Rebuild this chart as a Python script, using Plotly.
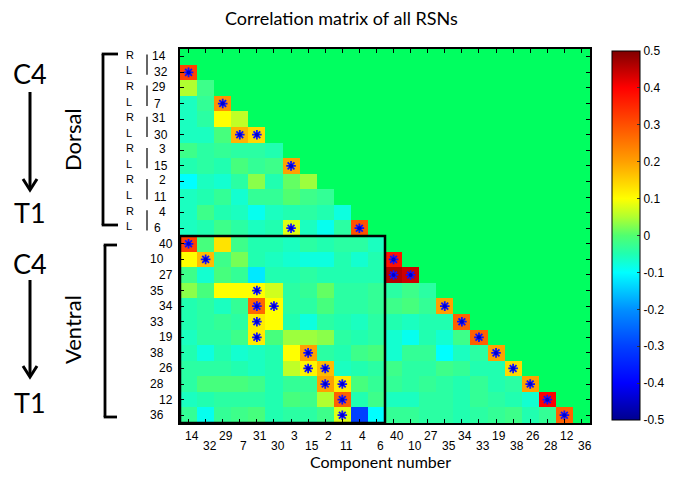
import plotly.graph_objects as go

# ---------------- data ----------------
dorsal_labels = ["14", "32", "29", "7", "31", "30", "3", "15", "2", "11", "4", "6"]
ventral_labels = ["40", "10", "27", "35", "34", "33", "19", "38", "26", "28", "12", "36"]
side_labels = ["R", "L"] * 6

# lower-triangle correlation values, row i holds columns 0..i-1
lower_rows = [
    [],
    [0.32],
    [0.05, -0.02],
    [-0.06, -0.03, 0.22],
    [-0.06, -0.04, 0.10, 0.06],
    [-0.06, -0.06, -0.01, 0.18, 0.14],
    [-0.02, -0.04, -0.03, -0.04, -0.04, -0.05],
    [-0.05, -0.04, -0.05, -0.01, -0.03, -0.02, 0.20],
    [-0.10, -0.06, -0.07, -0.04, 0.03, -0.05, 0.01, 0.04],
    [-0.06, -0.05, -0.03, -0.07, -0.03, -0.03, 0.00, -0.02, -0.03],
    [-0.06, -0.02, -0.05, -0.06, -0.09, -0.06, -0.05, -0.04, -0.05, -0.08],
    [-0.06, -0.05, -0.02, -0.04, -0.06, -0.05, 0.08, -0.06, -0.09, -0.04, 0.30],
    [0.32, -0.01, 0.13, -0.02, -0.05, -0.05, -0.06, -0.04, -0.05, -0.04, -0.04, -0.06],
    [0.10, 0.17, -0.02, 0.02, -0.05, -0.06, -0.07, -0.08, -0.08, -0.05, -0.07, -0.05, 0.38],
    [-0.02, -0.07, -0.01, -0.03, -0.12, -0.05, -0.05, -0.04, -0.05, -0.05, -0.05, -0.05, 0.46, 0.44],
    [0.03, -0.01, 0.10, 0.10, 0.10, 0.07, -0.04, -0.03, 0.01, -0.04, -0.04, -0.03, -0.04, -0.02, -0.04],
    [-0.05, -0.04, -0.06, -0.03, 0.27, 0.10, -0.04, -0.04, -0.01, -0.04, -0.04, -0.03, -0.02, -0.01, -0.03, 0.20],
    [-0.05, -0.04, -0.03, -0.04, 0.12, 0.10, -0.05, -0.08, -0.04, -0.05, -0.06, -0.04, -0.05, -0.06, -0.05, -0.05, 0.28],
    [-0.06, -0.04, -0.04, -0.02, 0.12, -0.01, 0.04, 0.04, 0.03, -0.04, -0.05, -0.04, -0.07, -0.09, -0.05, -0.07, -0.02, 0.28],
    [-0.05, -0.08, -0.05, -0.07, -0.06, -0.05, 0.10, 0.20, -0.04, -0.05, -0.02, -0.01, -0.07, -0.03, -0.03, -0.10, -0.06, -0.04, 0.20],
    [-0.04, -0.04, -0.04, -0.05, -0.06, -0.05, 0.06, 0.11, 0.17, -0.06, -0.05, -0.04, -0.02, -0.04, -0.04, -0.02, -0.03, -0.05, -0.05, 0.14],
    [-0.04, -0.01, -0.01, -0.01, -0.02, -0.05, -0.03, -0.03, 0.20, 0.12, -0.01, -0.03, -0.03, -0.04, -0.03, -0.04, -0.05, -0.03, -0.05, -0.04, 0.20],
    [-0.06, -0.05, -0.04, -0.04, -0.04, -0.05, -0.01, -0.02, 0.05, 0.28, -0.05, -0.02, -0.06, -0.06, -0.04, -0.04, -0.05, -0.03, -0.04, -0.05, -0.07, 0.40],
    [-0.03, -0.09, -0.03, -0.02, -0.01, -0.05, -0.04, -0.04, -0.02, 0.08, -0.30, -0.10, -0.03, -0.03, -0.04, -0.04, -0.05, -0.04, -0.03, -0.02, -0.05, -0.03, 0.28],
]

# significant cells (row, column)
sig_cells = [
    (1, 0), (3, 2), (5, 3), (5, 4), (7, 6), (11, 6), (11, 10),
    (12, 0), (13, 1), (13, 12), (14, 12), (14, 13),
    (15, 4), (16, 4), (16, 5), (17, 4), (18, 4), (19, 7), (20, 7), (20, 8),
    (21, 8), (21, 9), (22, 9), (23, 9),
    (16, 15), (17, 16), (18, 17), (19, 18), (20, 19), (21, 20), (22, 21), (23, 22),
]

cbar_vals = [0.5, 0.4, 0.3, 0.2, 0.1, 0, -0.1, -0.2, -0.3, -0.4, -0.5]

# ---------------- build ----------------
all_labels = dorsal_labels + ventral_labels
n = len(all_labels)
z = [[(lower_rows[i][j] if j < i else None) for j in range(n)] for i in range(n)]
idx = list(range(n))

colorscale = [
    [0.00, "#00008f"], [0.10, "#0000ff"], [0.20, "#0040ff"], [0.30, "#0090ff"],
    [0.40, "#00ffff"], [0.45, "#20ffb0"], [0.50, "#50ff70"], [0.55, "#b0ff30"],
    [0.60, "#ffff00"], [0.70, "#ffa000"], [0.80, "#ff5000"], [0.90, "#ff0000"],
    [1.00, "#800000"],
]

BG = "#00ff60"

# page offset (browser body margin) and geometry in screen pixels
OFF = 8
SL, ST = 180, 49          # plot-area left/top on screen
PW, PH = 410, 374         # plot-area size
W, H = 674 - OFF, 477 - OFF
ml, mt = SL - OFF, ST - OFF
mr, mb = W - ml - PW, H - mt - PH
rowpx = PH / n


def px2paper(px):
    return (px - SL) / PW


def py2row(py):
    return (py - ST) / rowpx - 0.5


fig = go.Figure()
fig.add_trace(go.Heatmap(
    x=idx, y=idx, z=z, zmin=-0.5, zmax=0.5, colorscale=colorscale,
    showscale=True, hoverongaps=False,
    colorbar=dict(
        x=px2paper(612), xanchor="left", xpad=0, ypad=0,
        y=1 - (((51 + 420) / 2) - ST) / PH, yanchor="middle",
        len=(420 - 51) / PH, lenmode="fraction", thickness=28,
        outlinecolor="black", outlinewidth=1,
        tickvals=cbar_vals, ticktext=[("%g" % v) for v in cbar_vals],
        ticks="inside", ticklen=3, tickcolor="#333",
        tickfont=dict(family="Liberation Sans, Arial", size=12, color="black"),
    ),
))

fig.add_trace(go.Scatter(
    x=[c for r, c in sig_cells], y=[r for r, c in sig_cells], mode="markers",
    marker=dict(symbol="asterisk-open", size=8, color="#1010ff",
                line=dict(width=1.8, color="#1010ff")),
    hoverinfo="skip", showlegend=False,
))
fig.add_trace(go.Scatter(
    x=[c for r, c in sig_cells], y=[r for r, c in sig_cells], mode="markers",
    marker=dict(symbol="circle", size=4, color="#0000cc"),
    hoverinfo="skip", showlegend=False,
))

tick_font = dict(family="Liberation Sans, Arial", size=12, color="black")
ann = []
# x tick labels (staggered)
for i, lab in enumerate(all_labels):
    ann.append(dict(x=i, y=0, xref="x", yref="paper", text=lab, showarrow=False,
                    xanchor="center", yanchor="middle", font=tick_font,
                    xshift=3 if i % 2 == 0 else 4, yshift=-13 if i % 2 == 0 else -23))
# y tick labels
for i, lab in enumerate(all_labels):
    dors = i < 12
    if i % 2 == 0:
        xp = px2paper(168 if dors else 175)
        xa = "right"
    else:
        xp = px2paper(152 if dors else 148)
        xa = "left"
    ann.append(dict(x=xp, y=i, xref="paper", yref="y", text=lab, showarrow=False,
                    xanchor=xa, yanchor="middle", font=tick_font,
                    yshift=1 if (dors and i % 2 == 0) else 0))
# R / L
for i, lab in enumerate(side_labels):
    ann.append(dict(x=px2paper(124), y=i, xref="paper", yref="y", text=lab, showarrow=False,
                    xanchor="left", yanchor="middle",
                    font=dict(family="Liberation Sans, Arial", size=11, color="black"),
                    yshift=2))

big_font = dict(family="Lato, Open Sans", color="black")
ann.append(dict(x=px2paper(72), y=py2row(140), xref="paper", yref="y", text="Dorsal",
                showarrow=False, textangle=-90, xanchor="center", yanchor="middle",
                font=dict(size=22, **big_font)))
ann.append(dict(x=px2paper(72), y=py2row(330), xref="paper", yref="y", text="Ventral",
                showarrow=False, textangle=-90, xanchor="center", yanchor="middle",
                font=dict(size=22, **big_font)))
for py, txt in [(73, "C4"), (212, "T1"), (263, "C4"), (402, "T1")]:
    ann.append(dict(x=px2paper(30), y=py2row(py), xref="paper", yref="y", text=txt,
                    showarrow=False, xanchor="center", yanchor="middle",
                    font=dict(size=27, **big_font)))
ann.append(dict(x=px2paper(341), y=1, xref="paper", yref="paper", yshift=ST - 18,
                text="Correlation matrix of all RSNs",
                showarrow=False, font=dict(size=18, **big_font), xanchor="center", yanchor="middle"))
ann.append(dict(x=px2paper(380), y=0, xref="paper", yref="paper", yshift=-(461 - (ST + PH)),
                text="Component number",
                showarrow=False, font=dict(size=16, **big_font), xanchor="center", yanchor="middle"))

shapes = []
blk = dict(color="black", width=2.8)
# block outline
shapes.append(dict(type="rect", xref="x", yref="y", x0=-0.5, x1=11.5, y0=11.5, y1=23.5,
                   line=dict(color="black", width=2.5)))
# brackets
for top, bot, xv, xarm in [(54, 225, 103, 118), (245, 417, 105, 117)]:
    shapes.append(dict(type="line", xref="paper", yref="y", x0=px2paper(xv), x1=px2paper(xv),
                       y0=py2row(top), y1=py2row(bot), line=blk))
    shapes.append(dict(type="line", xref="paper", yref="y", x0=px2paper(xv - 1.3), x1=px2paper(xarm),
                       y0=py2row(top), y1=py2row(top), line=blk))
    shapes.append(dict(type="line", xref="paper", yref="y", x0=px2paper(xv - 1.3), x1=px2paper(xarm),
                       y0=py2row(bot), y1=py2row(bot), line=blk))
# short bars next to pair labels
for k in range(6):
    shapes.append(dict(type="line", xref="paper", yref="y", x0=px2paper(147), x1=px2paper(147),
                       y0=2 * k - 0.15, y1=2 * k + 1.15, line=dict(color="#333", width=1.5)))
# arrows
for top, head in [(92, 190), (280, 377)]:
    xa = px2paper(30)
    shapes.append(dict(type="line", xref="paper", yref="y", x0=xa, x1=xa,
                       y0=py2row(top), y1=py2row(head - 1), line=dict(color="black", width=3)))
    path = "M %f,%f L %f,%f L %f,%f" % (px2paper(23), py2row(head - 11), xa, py2row(head),
                                         px2paper(37), py2row(head - 11))
    shapes.append(dict(type="path", xref="paper", yref="y", path=path,
                       line=dict(color="black", width=3)))

fig.update_layout(
    width=W, height=H, margin=dict(l=ml, r=mr, t=mt, b=mb, autoexpand=False),
    paper_bgcolor="white", plot_bgcolor=BG,
    annotations=ann, shapes=shapes, showlegend=False,
    xaxis=dict(range=[-0.5, n - 0.5], tickvals=idx, showticklabels=False, ticks="inside",
               ticklen=4, tickcolor="black", showgrid=False, zeroline=False,
               showline=True, linecolor="black", linewidth=1.5, mirror="ticks"),
    yaxis=dict(range=[n - 0.5, -0.5], tickvals=idx, showticklabels=False, ticks="inside",
               ticklen=4, tickcolor="black", showgrid=False, zeroline=False,
               showline=True, linecolor="black", linewidth=1.5, mirror="ticks"),
)

fig.write_html("out.html")
